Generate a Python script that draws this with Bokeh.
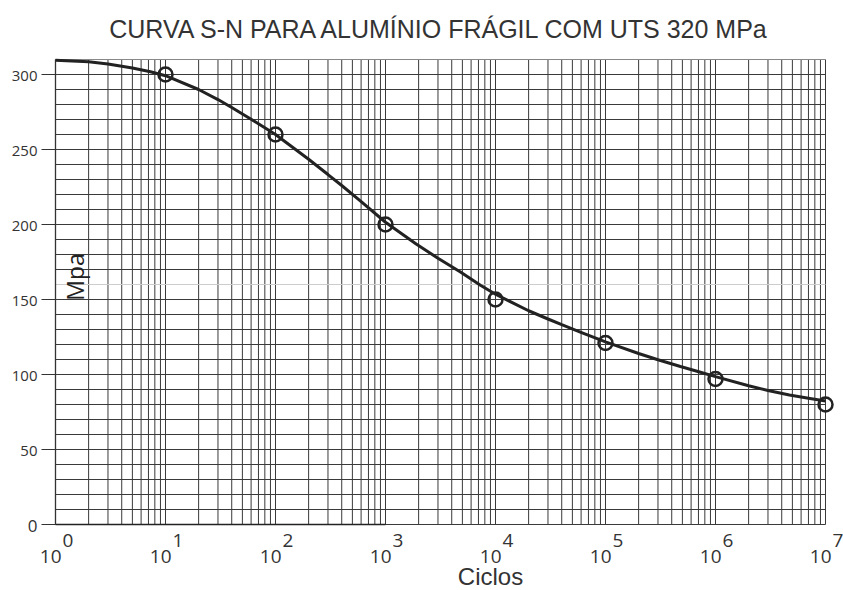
import math
from bokeh.plotting import figure
from bokeh.models import Range1d
from bokeh.core.properties import value
from bokeh.embed import file_html
from bokeh.resources import INLINE

# ---- data ----
title_text = "CURVA S-N PARA ALUMÍNIO FRÁGIL COM UTS 320 MPa"
x_label = "Ciclos"
y_label = "Mpa"

# test points (cycles, stress MPa)
point_cycles = [1e1, 1e2, 1e3, 1e4, 1e5, 1e6, 1e7]
point_stress = [300, 260, 200, 150, 121, 97, 80]

# fitted curve
curve_cycles = [1, 2, 3, 5, 7.3, 10, 20, 30, 40, 59, 78, 100, 200, 300, 400, 590,
                1000, 1900, 3000, 4800, 7300, 1e4, 2e4, 3e4, 4e4, 5.9e4, 1e5,
                2e5, 3e5, 4.8e5, 7.3e5, 1e6, 2e6, 3e6, 4.7e6, 7e6, 1e7]
curve_stress = [309.5, 308.5, 307, 304.3, 301.8, 299.2, 290, 283.3, 278, 270.5, 265,
                260, 243.5, 233.3, 226, 215.7, 201.5, 187, 177.5, 168.3, 159.5,
                153.5, 142.5, 137, 133.2, 128.3, 121.7, 114, 109.8, 105.3, 101.5,
                98.6, 92.5, 89.3, 86.3, 84.2, 82.3]

# axis ticks / grid
decade_exponents = [0, 1, 2, 3, 4, 5, 6, 7]
minor_multipliers = [2, 3, 4, 5, 6, 7, 8, 9]
y_ticks = [0, 50, 100, 150, 200, 250, 300]
y_tick_labels = ["0", "50", "100", "150", "200", "250", "300"]
y_grid_step = 10
y_min = 0
y_max = 310
light_grid_value = 160

# ---- layout (pixels) ----
W, H = 843, 590
LEFT = 55            # pixel column of 10^0
DECADE_PX = 110      # width of one decade
ZERO_PX = 524        # pixel row of stress 0
PX_PER_UNIT = 1.5
TICK_PX = 14

x_lo = 10.0 ** (decade_exponents[0] - LEFT / DECADE_PX)
x_hi = 10.0 ** (decade_exponents[0] + (W - LEFT) / DECADE_PX)
y_lo = -(H - ZERO_PX) / PX_PER_UNIT
y_hi = ZERO_PX / PX_PER_UNIT

GRID = "#3a3a3a"
INK = "#222222"
TXT = "#333333"

p = figure(width=W, height=H, x_axis_type="log", x_axis_location=None,
           y_axis_location=None, output_backend="svg", toolbar_location=None,
           x_range=Range1d(x_lo, x_hi), y_range=Range1d(y_lo, y_hi),
           min_border_left=0, min_border_right=0, min_border_top=0,
           min_border_bottom=0)
p.background_fill_color = "white"
p.border_fill_color = "white"
p.outline_line_color = None
p.xgrid.visible = False
p.ygrid.visible = False

x_first = 10.0 ** decade_exponents[0]
x_last = 10.0 ** decade_exponents[-1]

# vertical grid lines (decades and 2..9 within each)
vx = [10.0 ** k for k in decade_exponents]
vx += [m * 10.0 ** k for k in decade_exponents[:-1] for m in minor_multipliers]
p.segment(x0=vx, y0=[y_min] * len(vx), x1=vx, y1=[y_max] * len(vx),
          line_color=GRID, line_width=1)

# horizontal grid lines every 10
hy = [v for v in range(y_min, y_max, y_grid_step) if v != light_grid_value]
p.segment(x0=[x_first] * len(hy), y0=hy, x1=[x_last] * len(hy), y1=hy,
          line_color=GRID, line_width=1)
p.segment(x0=[x_first], y0=[light_grid_value], x1=[x_last], y1=[light_grid_value],
          line_color="#cccccc", line_width=1)
p.segment(x0=[x_first], y0=[y_max], x1=[x_last], y1=[y_max],
          line_color="#888888", line_width=1)
p.segment(x0=[x_first], y0=[y_min], x1=[x_first], y1=[y_max],
          line_color=TXT, line_width=1.3)
p.segment(x0=[x_first], y0=[y_min], x1=[10.0 ** 3], y1=[y_min],
          line_color=INK, line_width=1.6)

# y axis ticks and labels
tick_x0 = 10.0 ** (decade_exponents[0] - TICK_PX / DECADE_PX)
p.segment(x0=[tick_x0] * len(y_ticks), y0=y_ticks, x1=[x_first] * len(y_ticks),
          y1=y_ticks, line_color=TXT, line_width=1)
y_label_sizes = ["17px" if t == "0" else "15px" for t in y_tick_labels]
p.text(x=[x_first] * len(y_ticks), y=y_ticks, text=y_tick_labels,
       x_offset=-18, y_offset=1, text_align="right", text_baseline="middle",
       text_font=value("Open Sans"), text_font_size=y_label_sizes, text_color=TXT)

# curve and points
p.line(curve_cycles, curve_stress, line_color=INK, line_width=3)
p.scatter(point_cycles, point_stress, marker="circle", size=14,
          fill_color=None, line_color=INK, line_width=2.5)

# x tick labels 10^k
tick_x = [10.0 ** k for k in decade_exponents]
p.text(x=tick_x, y=[y_min] * len(tick_x), text=["10"] * len(tick_x),
       x_offset=6, y_offset=32, text_align="right", text_baseline="alphabetic",
       text_font=value("Open Sans"), text_font_size="19px", text_color=TXT)
p.text(x=tick_x, y=[y_min] * len(tick_x), text=[str(k) for k in decade_exponents],
       x_offset=7, y_offset=16, text_align="left", text_baseline="alphabetic",
       text_font=value("Open Sans"), text_font_size="19px", text_color=TXT)

# axis titles and chart title
p.text(x=[10.0 ** 4], y=[y_min], text=[x_label], x_offset=-5, y_offset=52,
       text_align="center", text_baseline="alphabetic",
       text_font=value("Liberation Sans"), text_font_size="24px", text_color=TXT)
p.text(x=[x_first], y=[165], text=[y_label], x_offset=19, angle=math.pi / 2,
       text_align="center", text_baseline="alphabetic",
       text_font=value("Open Sans"), text_font_size="23px", text_color=INK)
p.text(x=[10.0 ** 3.5], y=[y_max], text=[title_text], y_offset=-31,
       text_align="center", text_baseline="alphabetic",
       text_font=value("Liberation Sans"), text_font_size="25px", text_color=TXT)

open("out.html", "w").write(file_html(p, INLINE))
